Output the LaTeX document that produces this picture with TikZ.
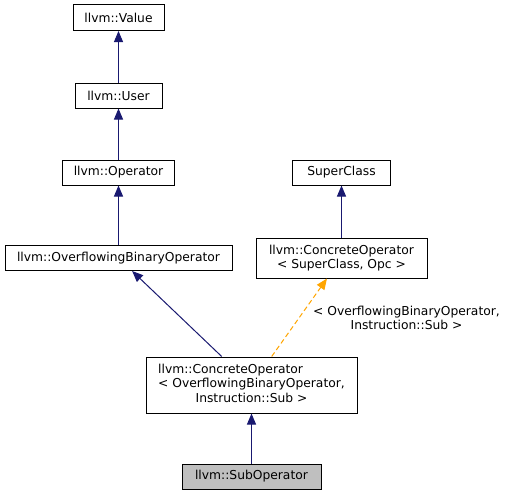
\documentclass[tikz,border=0pt]{standalone}
\usepackage{fontspec}
\setmainfont{DejaVu Sans}
\usetikzlibrary{arrows.meta,calc}
\definecolor{edgeblue}{HTML}{191970}
\definecolor{edgeorange}{HTML}{FFA500}
\definecolor{hlgray}{HTML}{BFBFBF}
\begin{document}
\begin{tikzpicture}[x=1pt,y=-1pt,
  every node/.style={font=\fontsize{12.3}{14.5}\selectfont},
  cls/.style={draw=black,line width=1pt,fill=white,inner sep=0pt,align=center},
  inh/.style={draw=edgeblue,line width=1pt,-{Triangle[length=11pt,width=9pt]}},
  tpl/.style={draw=edgeorange,line width=1pt,dash pattern=on 5pt off 3pt,-{Triangle[length=11pt,width=9pt]}},
  lbl/.style={inner sep=0pt,align=center}]
\useasboundingbox (0,0) rectangle (507,496);
\node[cls,minimum width=91pt,minimum height=26pt] (value) at (118.5,17.5) {llvm::Value};
\node[cls,minimum width=87pt,minimum height=25pt] (user) at (118.5,95.5) {llvm::User};
\node[cls,minimum width=112pt,minimum height=25pt] (op) at (118.5,172.5) {llvm::Operator};
\node[cls,minimum width=98pt,minimum height=25pt] (super) at (341.5,172.5) {SuperClass};
\node[cls,minimum width=227pt,minimum height=25pt] (obo) at (118.5,258) {llvm::OverflowingBinaryOperator};
\node[cls,minimum width=171pt,minimum height=40pt] (cosc) at (341.5,258) {llvm::ConcreteOperator\\{}< SuperClass, Opc >};
\node[cls,minimum width=211pt,minimum height=56pt] (co) at (251.5,385)
  {\begin{tabular}{@{}l@{}}llvm::ConcreteOperator\\{}< OverflowingBinaryOperator,\\\multicolumn{1}{@{}c@{}}{Instruction::Sub >}\end{tabular}};
\node[cls,fill=hlgray,minimum width=139pt,minimum height=25pt] (sub) at (251.5,476.5) {llvm::SubOperator};
\draw[inh] (user) -- (value);
\draw[inh] (op) -- (user);
\draw[inh] (obo) -- (op);
\draw[inh] (cosc) -- (super);
\draw[inh] (co) -- (obo);
\draw[inh] (sub) -- (co);
\draw[tpl] (co) -- (cosc);
\node[lbl] (tlabel) at (406.5,318) {< OverflowingBinaryOperator,\\Instruction::Sub >};
\end{tikzpicture}
\end{document}
